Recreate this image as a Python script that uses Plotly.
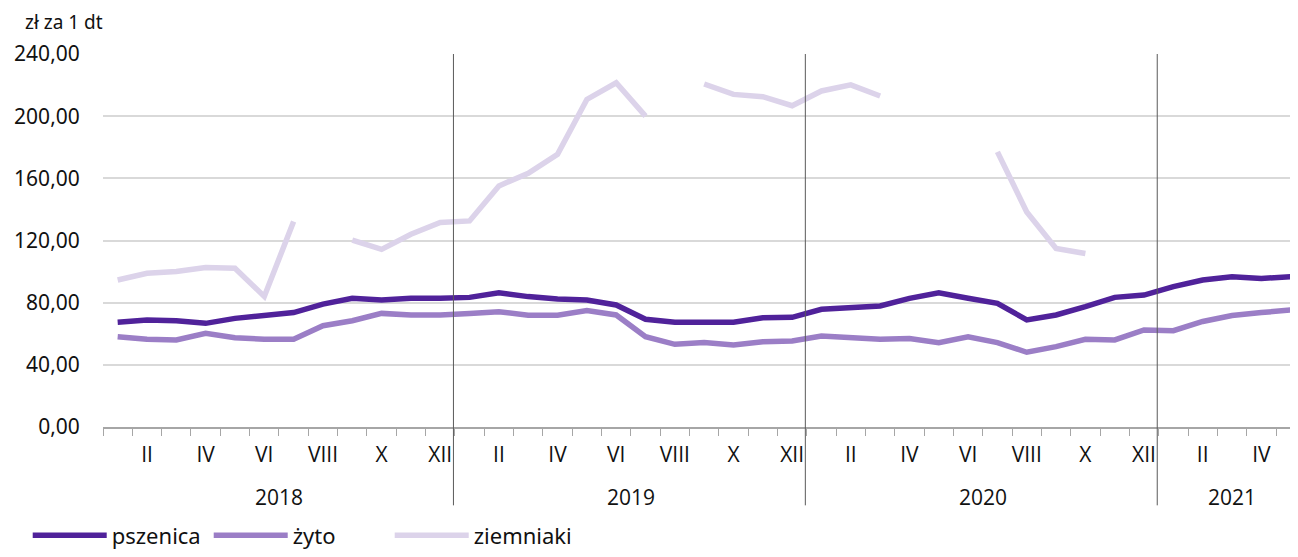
import plotly.graph_objects as go

months = ["I", "II", "III", "IV", "V", "VI", "VII", "VIII", "IX", "X", "XI", "XII"]
years = ["2018", "2019", "2020", "2021"]
months_per_year = [12, 12, 12, 5]

categories = []
tick_text = []
for y, n in zip(years, months_per_year):
    for i in range(n):
        categories.append(f"{y}-{i+1:02d}")
        tick_text.append(months[i] if (i + 1) % 2 == 0 else "")

pszenica = [67.4, 68.8, 68.4, 66.7, 69.9, 71.4, 73.6, 79.1, 82.8, 81.7, 82.8, 82.8,
            83.4, 86.4, 83.9, 82.4, 81.7, 78.5, 69.3, 67.4, 67.4, 67.4, 70.3, 70.6,
            75.7, 76.8, 77.9, 82.8, 86.4, 82.8, 79.6, 68.9, 72.1, 77.4, 83.4, 84.9,
            90.3, 94.6, 96.7, 95.6, 96.7]
zyto = [58.1, 56.4, 56.0, 60.3, 57.5, 56.4, 56.4, 65.2, 68.4, 73.1, 72.1, 72.1,
        73.1, 74.2, 71.9, 71.9, 74.9, 72.1, 58.1, 53.2, 54.3, 52.8, 54.9, 55.3,
        58.6, 57.7, 56.4, 57.0, 54.3, 58.1, 54.3, 48.1, 51.7, 56.4, 56.0, 62.4,
        62.0, 67.9, 71.7, 73.6, 75.3]
ziemniaki = [94.6, 98.9, 100.0, 102.6, 102.2, 84.0, 132.2, None, 120.3, 114.3, 124.0, 131.6,
             132.6, 155.1, 163.3, 175.5, 210.8, 221.5, 200.0, None, 220.7, 214.0, 212.5, 206.7,
             216.2, 220.1, 213.0, None, None, None, 177.0, 138.4, 114.8, 111.6, None, None,
             None, None, None, None, None]

series = [("pszenica", pszenica, "#50229a"),
          ("żyto", zyto, "#9b7ec6"),
          ("ziemniaki", ziemniaki, "#dcd3ea")]

FONT = "Noto Sans, sans-serif"
XFONT = "Open Sans, sans-serif"

fig = go.Figure()
for name, vals, col in series:
    fig.add_trace(go.Scatter(x=categories, y=vals, name=name, mode="lines",
                             line=dict(color=col, width=5.5),
                             connectgaps=False))

# year separators
for b in [11.45, 23.45, 35.45]:
    fig.add_shape(type="line", xref="x", yref="paper", x0=b, x1=b, y0=-0.21, y1=1.0,
                  line=dict(color="#5a5a5a", width=1))

# year labels
year_centers = [5.5, 17.5, 29.5, 38]
for yl, xc in zip(years, year_centers):
    fig.add_annotation(x=xc, y=-0.188, xref="x", yref="paper", text=yl, showarrow=False,
                       yanchor="middle", font=dict(family=XFONT, size=21, color="#111"))

# unit label
fig.add_annotation(x=-0.067, y=1.125, xref="paper", yref="paper", text="zł za 1 dt",
                   showarrow=False, xanchor="left", yanchor="top",
                   font=dict(family=FONT, size=19, color="#111"))

fig.update_layout(
    width=1290, height=549,
    margin=dict(l=95, r=0, t=46, b=130, autoexpand=False),
    plot_bgcolor="white", paper_bgcolor="white",
    font=dict(family=FONT, size=21, color="#111"),
    showlegend=True,
    legend=dict(orientation="h", xref="paper", yref="paper",
                x=-0.063, y=-0.347, xanchor="left", yanchor="bottom",
                font=dict(family=FONT, size=22, color="#111"),
                itemwidth=74, entrywidth=92, entrywidthmode="pixels",
                tracegroupgap=0),
    xaxis=dict(type="category", categoryorder="array", categoryarray=categories,
               range=[-0.5, 40.25], tickvals=categories, ticktext=tick_text,
               tickson="boundaries", ticks="outside", ticklen=7, tickcolor="#a6a6a6",
               showline=True, linecolor="#a6a6a6", linewidth=1.5,
               showgrid=False, zeroline=False, automargin=False,
               ticklabelstandoff=8,
               tickfont=dict(family=XFONT, size=21, color="#111"), tickangle=0),
    yaxis=dict(range=[0, 240], tickvals=[0, 40, 80, 120, 160, 200, 240],
               ticktext=["0,00", "40,00", "80,00", "120,00", "160,00", "200,00", "240,00"],
               showgrid=True, gridcolor="#d9d9d9", gridwidth=1.5,
               zeroline=False, showline=False, automargin=False,
               ticks="outside", ticklen=18, tickcolor="rgba(0,0,0,0)",
               tickfont=dict(family=FONT, size=21, color="#111")),
)

fig.write_html("out.html")
